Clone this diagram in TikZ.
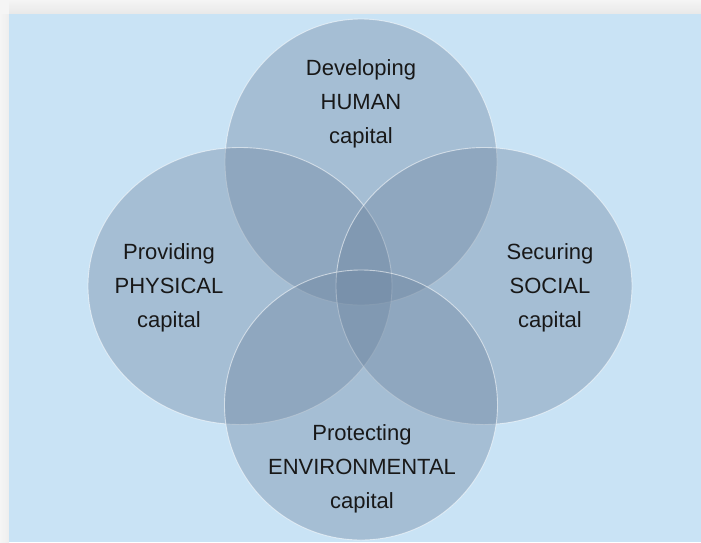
\documentclass[tikz,border=0pt]{standalone}
\usepackage{fontspec}
\setmainfont{Liberation Sans}
\usetikzlibrary{shapes.geometric}

\definecolor{page}{RGB}{245,245,245}
\definecolor{panel}{RGB}{201,227,245}
\definecolor{ring}{RGB}{109,133,160}
\definecolor{ink}{RGB}{24,24,24}

\begin{document}
\begin{tikzpicture}[x=1pt, y=-1pt,
    capzone/.style = {ellipse, inner sep=0pt, fill=ring, fill opacity=0.39,
                  draw=white, draw opacity=0.55, line width=0.9pt},
    txt/.style = {text=ink, align=center, font=\fontsize{22}{34}\selectfont}]

    % page and panel
    \useasboundingbox (0,0) rectangle (701,542);
    \fill[page] (0,0) rectangle (701,542);
    \shade[top color=page, bottom color=black!9] (9,0) rectangle (701,14);
    \shade[left color=page, right color=black!7] (0,14) rectangle (9,542);
    \fill[panel] (9,14) rectangle (701,542);

    % the four capitals
    \begin{scope}
    \clip (9,14) rectangle (701,542);
    \node[capzone, minimum width=272pt, minimum height=286pt] (human) at (361,162) {};
    \node[capzone, minimum width=304pt, minimum height=277pt] (physical) at (240,286) {};
    \node[capzone, minimum width=296pt, minimum height=277pt] (social) at (484,286) {};
    \node[capzone, minimum width=273pt, minimum height=270pt] (environ) at (361,405) {};
    \end{scope}

    % labels
    \node[txt] (humantxt)   at (361,104) {Developing\\HUMAN\\capital};
    \node[txt] (physictxt)  at (169,288) {Providing\\PHYSICAL\\capital};
    \node[txt] (socialtxt)  at (550,288) {Securing\\SOCIAL\\capital};
    \node[txt] (environtxt) at (362,469) {Protecting\\ENVIRONMENTAL\\capital};

\end{tikzpicture}
\end{document}
